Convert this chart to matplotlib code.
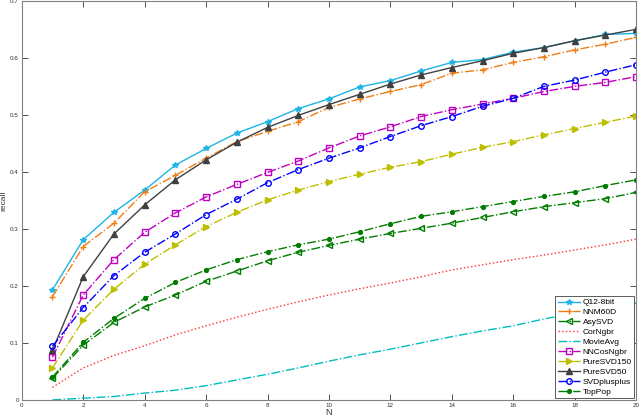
import matplotlib
matplotlib.use('Agg')
import matplotlib.pyplot as plt

N = list(range(1, 21))

q12_8bit = [0.193, 0.281, 0.329, 0.368, 0.412, 0.441, 0.468, 0.488, 0.511, 0.528,
            0.549, 0.560, 0.577, 0.592, 0.597, 0.610, 0.618, 0.630, 0.641, 0.643]
nnm60d = [0.181, 0.269, 0.310, 0.365, 0.394, 0.424, 0.453, 0.471, 0.488, 0.513,
          0.528, 0.541, 0.553, 0.573, 0.579, 0.592, 0.602, 0.614, 0.624, 0.636]
asysvd = [0.038, 0.096, 0.136, 0.163, 0.184, 0.208, 0.226, 0.244, 0.259, 0.271,
          0.282, 0.292, 0.301, 0.310, 0.320, 0.330, 0.339, 0.346, 0.353, 0.364]
corngbr = [0.022, 0.056, 0.078, 0.095, 0.114, 0.130, 0.145, 0.159, 0.172, 0.184,
           0.195, 0.205, 0.216, 0.228, 0.237, 0.246, 0.254, 0.263, 0.272, 0.282]
movieavg = [0.000, 0.003, 0.006, 0.012, 0.017, 0.025, 0.035, 0.045, 0.056, 0.068,
            0.079, 0.089, 0.100, 0.111, 0.121, 0.130, 0.142, 0.152, 0.161, 0.170]
nncosngbr = [0.075, 0.184, 0.246, 0.294, 0.328, 0.356, 0.378, 0.399, 0.419, 0.442,
             0.463, 0.479, 0.497, 0.509, 0.519, 0.529, 0.541, 0.550, 0.557, 0.567]
puresvd150 = [0.056, 0.140, 0.194, 0.238, 0.272, 0.304, 0.329, 0.351, 0.368, 0.383,
              0.396, 0.408, 0.418, 0.431, 0.443, 0.453, 0.465, 0.476, 0.487, 0.498]
puresvd50 = [0.087, 0.216, 0.291, 0.342, 0.386, 0.421, 0.452, 0.478, 0.499, 0.518,
             0.536, 0.554, 0.570, 0.583, 0.595, 0.608, 0.618, 0.630, 0.640, 0.650]
svdplusplus = [0.094, 0.162, 0.218, 0.259, 0.291, 0.325, 0.352, 0.381, 0.404, 0.424,
               0.442, 0.462, 0.481, 0.497, 0.515, 0.529, 0.550, 0.561, 0.575, 0.588]
toppop = [0.040, 0.101, 0.143, 0.178, 0.206, 0.228, 0.246, 0.260, 0.272, 0.282,
          0.295, 0.309, 0.322, 0.330, 0.339, 0.348, 0.357, 0.365, 0.376, 0.386]

series = [
    ('Q12-8bit', q12_8bit, '#1eb4e6', '-', '*'),
    ('NNM60D', nnm60d, '#f07d14', '-.', '+'),
    ('AsySVD', asysvd, '#007d00', '-.', '<'),
    ('CorNgbr', corngbr, '#ff3030', ':', None),
    ('MovieAvg', movieavg, '#00bebe', '-.', None),
    ('NNCosNgbr', nncosngbr, '#c000c0', '-.', 's'),
    ('PureSVD150', puresvd150, '#bebe00', '-.', '>'),
    ('PureSVD50', puresvd50, '#404040', '-', '^'),
    ('SVDplusplus', svdplusplus, '#0000ff', '-.', 'o'),
    ('TopPop', toppop, '#007d00', '-.', '.'),
]

plt.rcParams['font.family'] = ['Liberation Sans', 'DejaVu Sans']
fig = plt.figure(figsize=(6.4, 4.17), dpi=100)
ax = fig.add_axes([0.034, 0.041, 0.96, 0.957])

for name, vals, color, ls, mk in series:
    kw = dict(color=color, linestyle=ls, linewidth=1.0, label=name)
    if mk is not None:
        kw.update(marker=mk, markersize=4 if mk != '.' else 5.5,
                  markerfacecolor='none' if mk in ('s', 'o', '<') else color,
                  markeredgewidth=1.0)
    ax.plot(N, vals, **kw)

ax.set_xlim(0, 20)
ax.set_ylim(0, 0.7)
ax.set_xticks(range(0, 21, 2))
ax.set_yticks([i / 10 for i in range(8)])
ax.set_yticklabels(['0'] + [f'{i / 10:.1f}' for i in range(1, 8)])
ax.tick_params(direction='in', top=True, right=True, labelsize=4.5,
               colors='#333333', length=4, width=0.6, pad=2)
for s in ax.spines.values():
    s.set_color('#808080')
    s.set_linewidth(0.8)
ax.set_xlabel('N', fontsize=6.5, labelpad=0, color='#333333')
ax.set_ylabel('recall', fontsize=6, labelpad=2, color='#333333')

leg = ax.legend(loc='lower right', fontsize=6, handlelength=2.6, borderpad=0.3,
                labelspacing=0.25, handletextpad=0.4, fancybox=False,
                framealpha=1, borderaxespad=0.2)
leg.get_frame().set_edgecolor('#404040')
leg.get_frame().set_linewidth(0.6)

plt.savefig('out.png', dpi=100)
plt.close()
